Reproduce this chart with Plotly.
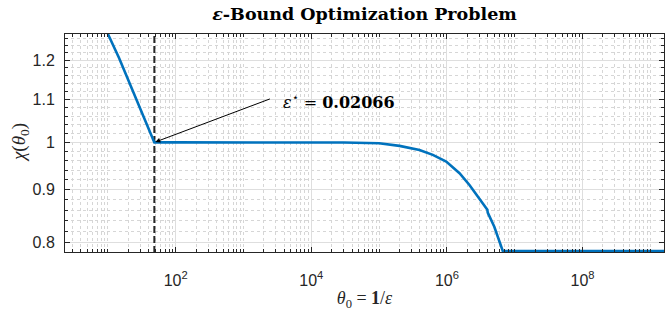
import plotly.graph_objects as go

# ---- data ----
theta = [10.0, 14.6, 23.4, 37.8, 48.4, 100.0, 1.0e3, 1.0e4, 3.0e4, 1.0e5, 2.0e5,
         3.94e5, 6.2e5, 9.77e5, 1.535e6, 2.15e6, 3.02e6, 3.8e6, 3.95e6, 4.0e6,
         4.3e6, 5.0e6, 6.68e6, 1.0e7, 1.0e8, 2.0e9]
chi = [1.272, 1.206, 1.120, 1.0397, 1.0, 1.0, 1.0, 1.0, 0.9996, 0.998, 0.9922,
       0.9834, 0.9726, 0.9582, 0.9338, 0.9097, 0.8834, 0.8638, 0.8612, 0.8555,
       0.8460, 0.8292, 0.7855, 0.7855, 0.7855, 0.7855]

eps_star = 0.02066
theta_star = [48.4, 48.4]
theta_star_y = [0.70, 1.40]

x_major = [1e2, 1e4, 1e6, 1e8]
x_major_text = ["10<sup>2</sup>", "10<sup>4</sup>", "10<sup>6</sup>", "10<sup>8</sup>"]
y_major = [0.8, 0.9, 1.0, 1.1, 1.2]
y_major_text = ["0.8", "0.9", "1", "1.1", "1.2"]

x_minor = [d * 10 ** n for n in range(0, 10) for d in range(1, 10)
           if not (d == 1 and n % 2 == 0)]
y_minor = [round(0.78 + 0.02 * i, 2) for i in range(25)]
y_minor = [v for v in y_minor if round(v * 10, 6) != round(v * 10)]

AX = "#262626"
BLUE = "#0072BD"

fig = go.Figure()
fig.add_trace(go.Scatter(x=theta_star, y=theta_star_y, mode="lines",
                         line=dict(color="#262626", width=2, dash="7px,3px"),
                         showlegend=False, hoverinfo="skip"))
fig.add_trace(go.Scatter(x=theta, y=chi, mode="lines",
                         line=dict(color=BLUE, width=2.6),
                         showlegend=False))

axis_common = dict(
    showline=True, linecolor=AX, linewidth=1, mirror="allticks",
    ticks="inside", ticklen=5, tickcolor=AX, tickwidth=1,
    showgrid=True, gridcolor="#dedede", gridwidth=1,
    zeroline=False, automargin=False,
    tickfont=dict(family="Liberation Sans, Arial, sans-serif", size=16, color=AX),
)

fig.update_xaxes(
    type="log", range=[0.367, 9.202],
    tickmode="array", tickvals=x_major, ticktext=x_major_text,
    minor=dict(tickmode="array", tickvals=x_minor, ticks="inside", ticklen=3,
               tickcolor=AX, showgrid=True, gridcolor="#d6d6d6", griddash="dot",
               gridwidth=1),
    ticklabelstandoff=14,
    title=dict(text="<i>θ</i><sub>0</sub> = <b>1</b>/<i>ε</i>",
               font=dict(family="Liberation Serif, serif", size=18, color=AX),
               standoff=3),
    **axis_common,
)
fig.update_yaxes(
    type="log", range=[-0.1057, 0.1045],
    tickmode="array", tickvals=y_major, ticktext=y_major_text,
    minor=dict(tickmode="array", tickvals=y_minor, ticks="inside", ticklen=3,
               tickcolor=AX, showgrid=True, gridcolor="#d6d6d6", griddash="dot",
               gridwidth=1),
    ticklabelstandoff=6,
    **axis_common,
)

# y-axis label
fig.add_annotation(x=-0.0751, y=0.5, xref="paper", yref="paper",
                   text="<i>χ</i>(<i>θ</i><sub>0</sub>)", textangle=-90,
                   showarrow=False, xanchor="center", yanchor="middle",
                   font=dict(family="Liberation Serif, serif", size=19, color=AX))

# arrow (no text) pointing to the optimum
fig.add_annotation(x=1.685, y=0.0, xref="x", yref="y", text="",
                   showarrow=True, arrowhead=2, arrowsize=1, arrowwidth=1,
                   arrowcolor="black", ax=117, ay=-44, standoff=1)
fig.add_annotation(x=0.458, y=0.748, xref="paper", yref="paper",
                   text="<i>ε</i><sup>⋆</sup> = <b>0.02066</b>",
                   showarrow=False,
                   font=dict(family="DejaVu Serif, serif", size=16, color="black"))

fig.update_layout(
    width=665, height=312,
    margin=dict(l=65, r=1, t=34, b=60, autoexpand=False),
    paper_bgcolor="white", plot_bgcolor="white",
    title=dict(text="<b><i>ε</i>-Bound Optimization Problem</b>",
               x=0.5, xref="paper", y=0.955, yref="container", yanchor="middle",
               font=dict(family="DejaVu Serif, serif", size=17.5, color="black")),
)

fig.write_html("out.html", config={"displayModeBar": False},
               post_script="document.body.style.margin='0';"
                           "document.body.style.overflow='hidden';")
